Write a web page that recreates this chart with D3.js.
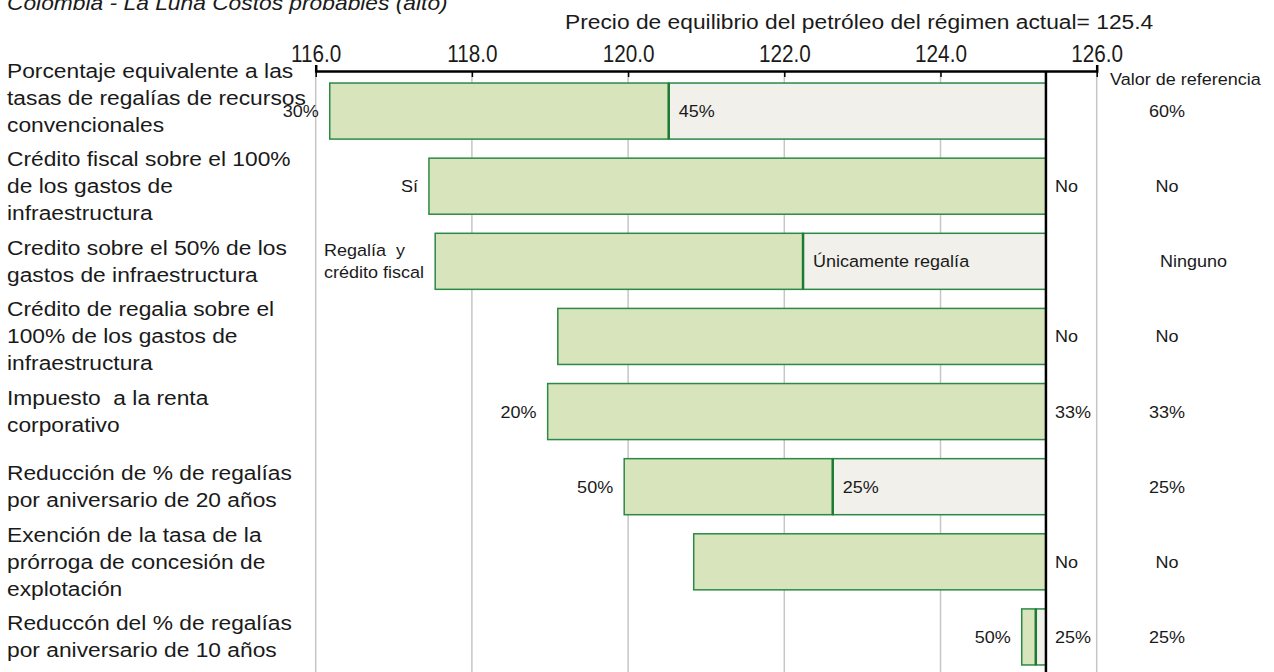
<!DOCTYPE html>
<html>
<head>
<meta charset="utf-8">
<script src="https://cdn.jsdelivr.net/npm/d3@7"></script>
<style>
  html, body { margin: 0; padding: 0; background: #fff; }
  svg { display: block; font-family: "Liberation Sans", Arial, sans-serif; }
</style>
</head>
<body>
<svg id="chart" width="1274" height="672"></svg>
<script>
// ---------------- data ----------------
const chartTitle = "Colombia - La Luna Costos probables (alto)";
const baseTitle = "Precio de equilibrio del petróleo del régimen actual= 125.4";
const refHeader = "Valor de referencia";
const baseValue = 125.35;
const tickValues = [116, 118, 120, 122, 124, 126];

const categories = [
  ["Porcentaje equivalente a las", "tasas de regalías de recursos", "convencionales"],
  ["Crédito fiscal sobre el 100%", "de los gastos de", "infraestructura"],
  ["Credito sobre el 50% de los", "gastos de infraestructura"],
  ["Crédito de regalia sobre el", "100% de los gastos de", "infraestructura"],
  ["Impuesto  a la renta", "corporativo"],
  ["Reducción de % de regalías", "por aniversario de 20 años"],
  ["Exención de la tasa de la", "prórroga de concesión de", "explotación"],
  ["Reduccón del % de regalías", "por aniversario de 10 años"]
];
const lowValues = [116.18, 117.45, 117.53, 119.10, 118.97, 119.95, 120.84, 125.04];
const midValues = [120.52, null, 122.24, null, null, 122.62, null, 125.22];
const lowLabels = ["30%", "Sí", "Regalía  y\ncrédito fiscal", "", "20%", "50%", "", "50%"];
const midLabels = ["45%", "", "Únicamente regalía", "", "", "25%", "", ""];
const endLabels = ["", "No", "", "No", "33%", "", "No", "25%"];
const refValues = ["60%", "No", "Ninguno", "No", "33%", "25%", "No", "25%"];

// ---------------- layout ----------------
const svg = d3.select("#chart");
const axisY = 71;
const textColor = "#1a1a1a";
const greenFill = "#d8e4bc", greenStroke = "#2b8a45", splitStroke = "#1d7a34";
const greyFill = "#f1f0eb";
const bigSize = 21, bigSx = 1.085;
const smallSize = 17, smallSx = 1.06;

function widen(sel, ax, sx) {
  sel.attr("transform", `translate(${ax},0) scale(${sx},1) translate(${-ax},0)`);
}

const x = d3.scaleLinear().domain([116, 126]).range([315.7, 1096.7]);
const y = d3.scaleBand().domain(d3.range(categories.length))
  .range([73.5, 674.5]).paddingInner(0.254).paddingOuter(0.127);

// title (cut at top)
widen(svg.append("text").attr("x", 7).attr("y", 10)
  .attr("font-size", bigSize).attr("font-style", "italic").attr("fill", textColor)
  .text(chartTitle), 7, bigSx);

widen(svg.append("text").attr("x", 565).attr("y", 29)
  .attr("font-size", bigSize).attr("fill", textColor)
  .text(baseTitle), 565, bigSx);

// gridlines
svg.append("g").selectAll("line").data(tickValues).join("line")
  .attr("x1", d => x(d)).attr("x2", d => x(d))
  .attr("y1", axisY).attr("y2", 672)
  .attr("stroke", "#c6c6c6").attr("stroke-width", 1.5);

// bars
const rows = svg.append("g").selectAll("g").data(categories).join("g");

rows.each(function(d, i) {
  const g = d3.select(this);
  const y0 = y(i), h = y.bandwidth(), cy = y0 + h / 2;
  const lo = lowValues[i], mid = midValues[i];
  const greenEnd = mid == null ? baseValue : mid;
  if (mid != null) {
    g.append("rect").attr("x", x(mid)).attr("y", y0)
      .attr("width", x(baseValue) - x(mid)).attr("height", h)
      .attr("fill", greyFill).attr("stroke", greenStroke).attr("stroke-width", 1.5);
  }
  g.append("rect").attr("x", x(lo)).attr("y", y0)
    .attr("width", x(greenEnd) - x(lo)).attr("height", h)
    .attr("fill", greenFill).attr("stroke", greenStroke).attr("stroke-width", 1.5);
  if (mid != null) {
    g.append("line").attr("x1", x(mid)).attr("x2", x(mid))
      .attr("y1", y0).attr("y2", y0 + h)
      .attr("stroke", splitStroke).attr("stroke-width", 2.5);
  }

  // low label (left of bar, lines left-aligned)
  if (lowLabels[i]) {
    const lines = lowLabels[i].split("\n");
    const t = g.append("text").attr("font-size", smallSize).attr("fill", textColor)
      .attr("xml:space", "preserve");
    const lh = 22;
    lines.forEach((ln, k) => {
      t.append("tspan").attr("y", cy + 6 + (k - (lines.length - 1) / 2) * lh).text(ln);
    });
    const w = d3.max(t.selectAll("tspan").nodes(), n => n.getComputedTextLength()) * smallSx;
    const left = x(lo) - 11 - w;
    t.selectAll("tspan").attr("x", left);
    widen(t, left, smallSx);
  }
  // mid label
  if (midLabels[i]) {
    const mx = x(mid) + 10;
    widen(g.append("text").attr("x", mx).attr("y", cy + 6)
      .attr("font-size", smallSize).attr("fill", textColor).text(midLabels[i]), mx, smallSx);
  }
  // end label
  if (endLabels[i]) {
    const ex = x(baseValue) + 9;
    widen(g.append("text").attr("x", ex).attr("y", cy + 6)
      .attr("font-size", smallSize).attr("fill", textColor).text(endLabels[i]), ex, smallSx);
  }
  // reference value
  const rt = g.append("text").attr("y", cy + 6)
    .attr("font-size", smallSize).attr("fill", textColor).text(refValues[i]);
  if (rt.node().getComputedTextLength() > 40) { rt.attr("x", 1160); widen(rt, 1160, smallSx); }
  else { rt.attr("x", 1167).attr("text-anchor", "middle"); widen(rt, 1167, smallSx); }

  // category label
  const off = i === 0 ? -13 : 0;
  const cat = g.append("text").attr("font-size", bigSize).attr("fill", textColor)
    .attr("xml:space", "preserve");
  d.forEach((ln, k) => {
    cat.append("tspan").attr("x", 7)
      .attr("y", cy + off + 7 + (k - (d.length - 1) / 2) * 27).text(ln);
  });
  widen(cat, 7, bigSx);
});

// base line
svg.append("line").attr("x1", x(baseValue)).attr("x2", x(baseValue))
  .attr("y1", axisY).attr("y2", 672)
  .attr("stroke", "#000").attr("stroke-width", 2.5);

// top axis
const axis = d3.axisTop(x).tickValues(tickValues)
  .tickFormat(d3.format(".1f")).tickSizeInner(-6).tickSizeOuter(6).tickPadding(9);
const ax = svg.append("g").attr("transform", `translate(0,${axisY})`).call(axis);
ax.select(".domain").attr("stroke", "#000").attr("stroke-width", 2.5);
ax.selectAll(".tick line").attr("stroke", "#000").attr("stroke-width", 1.5);
ax.selectAll(".tick text").attr("font-size", 23).attr("fill", textColor)
  .attr("font-family", "Liberation Sans, Arial, sans-serif")
  .attr("transform", "scale(0.9,1)");

// reference header
widen(svg.append("text").attr("x", 1110).attr("y", 85)
  .attr("font-size", smallSize).attr("fill", textColor).text(refHeader), 1110, smallSx);
</script>
</body>
</html>
